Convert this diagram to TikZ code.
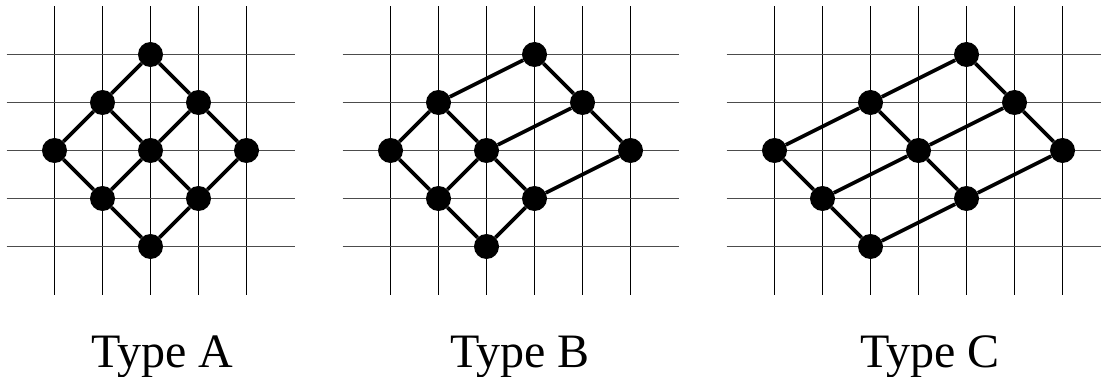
\documentclass[tikz,border=0pt]{standalone}
\usepackage{fontspec}
\setmainfont{Liberation Serif}
\begin{document}
\begin{tikzpicture}[x=1pt,y=-1pt,
  vline/.style={black, line width=1pt},
  hline/.style={black!70, line width=1.2pt},
  dot/.style={circle, fill=black, draw=none, minimum size=25pt, inner sep=0pt},
  edge/.style={line width=3.6pt, black},
  lbl/.style={font=\fontsize{48}{48}\selectfont, anchor=base, inner sep=0pt}]
\useasboundingbox (0,0) rectangle (1101,377);
\begin{scope}
\clip (0,0) rectangle (1101,377);
% Panel A grid
\foreach \x in {54.5,102.5,...,246.5} \draw[vline] (\x,6.5) -- (\x,294.5);
\foreach \y in {54.5,102.5,...,246.5} \draw[hline] (6.5,\y) -- (294.5,\y);
% Panel B grid
\foreach \x in {390.5,438.5,...,630.5} \draw[vline] (\x,6.5) -- (\x,294.5);
\foreach \y in {54.5,102.5,...,246.5} \draw[hline] (342.5,\y) -- (678.5,\y);
% Panel C grid
\foreach \x in {774.5,822.5,...,1062.5} \draw[vline] (\x,6.5) -- (\x,294.5);
\foreach \y in {54.5,102.5,...,246.5} \draw[hline] (726.5,\y) -- (1110.5,\y);
\end{scope}
% Panel A nodes
\node[dot] (a1) at (150.5,54.5) {};
\node[dot] (a2) at (102.5,102.5) {};
\node[dot] (a3) at (198.5,102.5) {};
\node[dot] (a4) at (54.5,150.5) {};
\node[dot] (a5) at (150.5,150.5) {};
\node[dot] (a6) at (246.5,150.5) {};
\node[dot] (a7) at (102.5,198.5) {};
\node[dot] (a8) at (198.5,198.5) {};
\node[dot] (a9) at (150.5,246.5) {};
\draw[edge] (a2) -- (a1) -- (a3) -- (a6) -- (a8) -- (a9) -- (a7) -- (a4) -- (a2);
\draw[edge] (a2) -- (a5) -- (a8);
\draw[edge] (a3) -- (a5) -- (a7);
% Panel B nodes
\node[dot] (b1) at (534.5,54.5) {};
\node[dot] (b2) at (438.5,102.5) {};
\node[dot] (b3) at (582.5,102.5) {};
\node[dot] (b4) at (390.5,150.5) {};
\node[dot] (b5) at (486.5,150.5) {};
\node[dot] (b6) at (630.5,150.5) {};
\node[dot] (b7) at (438.5,198.5) {};
\node[dot] (b8) at (534.5,198.5) {};
\node[dot] (b9) at (486.5,246.5) {};
\draw[edge] (b2) -- (b1) -- (b3) -- (b6) -- (b8) -- (b9) -- (b7) -- (b4) -- (b2);
\draw[edge] (b2) -- (b5) -- (b8);
\draw[edge] (b3) -- (b5) -- (b7);
% Panel C nodes
\node[dot] (c1) at (966.5,54.5) {};
\node[dot] (c2) at (870.5,102.5) {};
\node[dot] (c3) at (1014.5,102.5) {};
\node[dot] (c4) at (774.5,150.5) {};
\node[dot] (c5) at (918.5,150.5) {};
\node[dot] (c6) at (1062.5,150.5) {};
\node[dot] (c7) at (822.5,198.5) {};
\node[dot] (c8) at (966.5,198.5) {};
\node[dot] (c9) at (870.5,246.5) {};
\draw[edge] (c2) -- (c1) -- (c3) -- (c6) -- (c8) -- (c9) -- (c7) -- (c4) -- (c2);
\draw[edge] (c2) -- (c5) -- (c8);
\draw[edge] (c3) -- (c5) -- (c7);
% Labels
\node[lbl] (la) at (162,367) {Type A};
\node[lbl] (lb) at (520,367) {Type B};
\node[lbl] (lc) at (930,367) {Type C};
\end{tikzpicture}
\end{document}
